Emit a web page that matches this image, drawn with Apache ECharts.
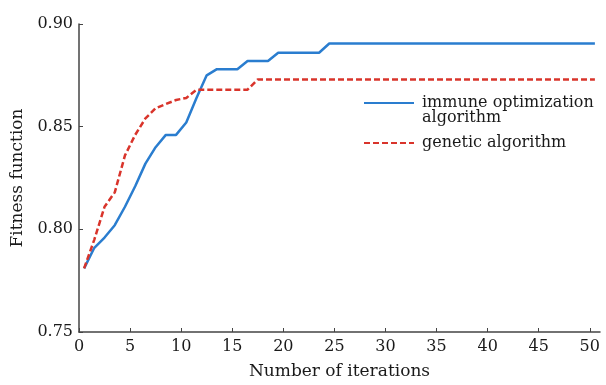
<!DOCTYPE html>
<html><head><meta charset="utf-8">
<script src="https://cdn.jsdelivr.net/npm/echarts@6/dist/echarts.min.js"></script>
<style>html,body{margin:0;padding:0;background:#fff}#c{width:606px;height:385px}</style>
</head><body><div id="c"></div>
<script>
const iterations = [0.5,1.5,2.5,3.5,4.5,5.5,6.5,7.5,8.5,9.5,10.5,11.5,12.5,13.5,14.5,15.5,16.5,17.5,18.5,19.5,20.5,21.5,22.5,23.5,24.5,25.5,26.5,27.5,28.5,29.5,30.5,31.5,32.5,33.5,34.5,35.5,36.5,37.5,38.5,39.5,40.5,41.5,42.5,43.5,44.5,45.5,46.5,47.5,48.5,49.5,50.5];
const immune = [0.781,0.791,0.796,0.802,0.811,0.821,0.832,0.840,0.846,0.846,0.852,0.864,0.875,0.878,0.878,0.878,0.882,0.882,0.882,0.886,0.886,0.886,0.886,0.886,0.8905,0.8905,0.8905,0.8905,0.8905,0.8905,0.8905,0.8905,0.8905,0.8905,0.8905,0.8905,0.8905,0.8905,0.8905,0.8905,0.8905,0.8905,0.8905,0.8905,0.8905,0.8905,0.8905,0.8905,0.8905,0.8905,0.8905];
const genetic = [0.781,0.795,0.811,0.818,0.836,0.846,0.854,0.859,0.861,0.863,0.864,0.868,0.868,0.868,0.868,0.868,0.868,0.873,0.873,0.873,0.873,0.873,0.873,0.873,0.873,0.873,0.873,0.873,0.873,0.873,0.873,0.873,0.873,0.873,0.873,0.873,0.873,0.873,0.873,0.873,0.873,0.873,0.873,0.873,0.873,0.873,0.873,0.873,0.873,0.873,0.873];
const xTicks = [0,5,10,15,20,25,30,35,40,45,50];
const yTicks = [0.75,0.80,0.85,0.90];
const seriesNames = ['immune optimization\nalgorithm','genetic algorithm'];

const font = 'DejaVu Serif';
const axisColor = '#444';
const textColor = '#1a1a1a';
const chart = echarts.init(document.getElementById('c'), null, {renderer:'canvas'});
chart.setOption({
  animation:false,
  backgroundColor:'#fff',
  grid:{left:79,right:6,top:24,bottom:47},
  legend:{
    left:363, top:80, padding:0, orient:'vertical', itemWidth:50, itemHeight:14, itemGap:9,
    itemStyle:{opacity:0},
    textStyle:{fontFamily:font,fontSize:16,color:textColor,lineHeight:15,padding:[0,0,0,3]},
    formatter:n=> n===seriesNames[0] ? ' \n'+n : n,
    data:seriesNames.map(n=>({name:n}))
  },
  xAxis:{
    type:'value', min:0, max:51,
    name:'Number of iterations', nameLocation:'middle', nameGap:31,
    nameTextStyle:{fontFamily:font,fontSize:17,color:textColor},
    axisLine:{lineStyle:{color:axisColor,width:1.5}},
    axisTick:{inside:true,length:4,customValues:xTicks,lineStyle:{color:axisColor}},
    axisLabel:{customValues:xTicks,fontFamily:font,fontSize:16,color:textColor,margin:7},
    splitLine:{show:false}
  },
  yAxis:{
    type:'value', min:0.75, max:0.90,
    name:'Fitness function', nameLocation:'middle', nameGap:51,
    nameTextStyle:{fontFamily:font,fontSize:17,color:textColor},
    axisLine:{show:true,lineStyle:{color:axisColor,width:1.5}},
    axisTick:{show:true,inside:true,length:4,customValues:yTicks,lineStyle:{color:axisColor}},
    axisLabel:{customValues:yTicks,fontFamily:font,fontSize:16,color:textColor,margin:6,formatter:v=>v.toFixed(2)},
    splitLine:{show:false}
  },
  series:[
    {name:seriesNames[0],type:'line',showSymbol:false,symbol:'none',
     data:iterations.map((x,i)=>[x,immune[i]]),
     lineStyle:{color:'#2a7dcf',width:2.5},itemStyle:{color:'#2a7dcf'}},
    {name:seriesNames[1],type:'line',showSymbol:false,symbol:'none',
     data:iterations.map((x,i)=>[x,genetic[i]]),
     lineStyle:{color:'#d9342b',width:2.5,type:[6,3]},itemStyle:{color:'#d9342b'}}
  ]
});
</script></body></html>
